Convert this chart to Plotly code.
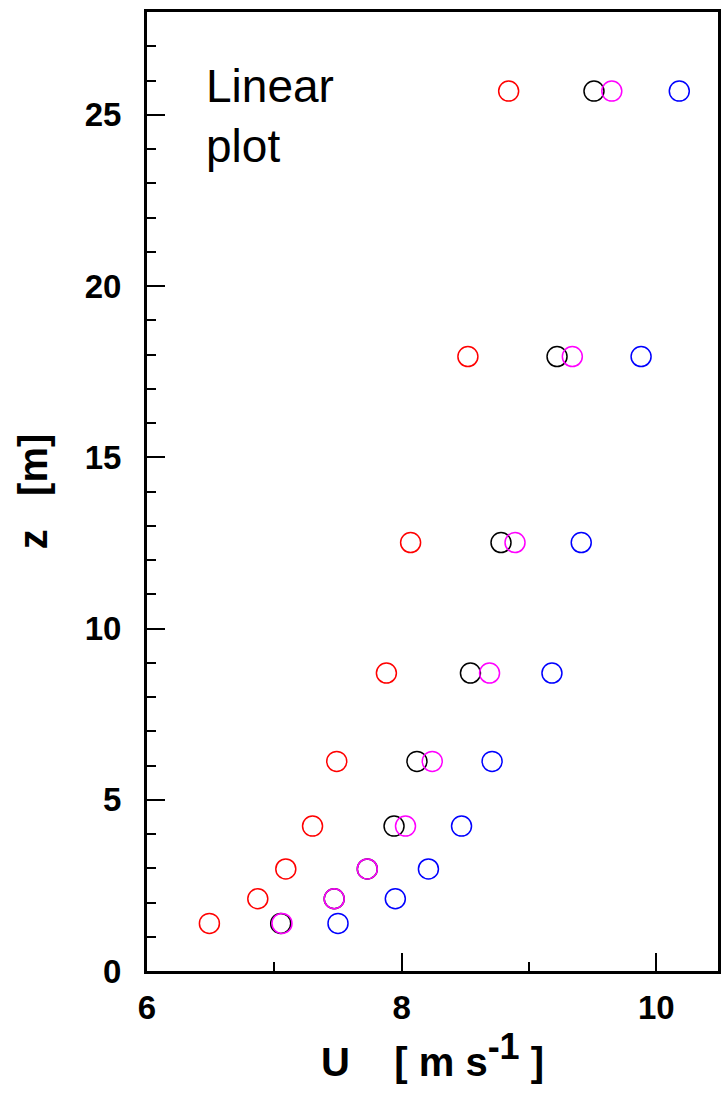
import plotly.graph_objects as go

# Heights (m)
z = [1.39, 2.11, 2.98, 4.23, 6.12, 8.70, 12.51, 17.94, 25.69]
# Wind speeds (m/s) for the four series
u_red = [6.49, 6.87, 7.09, 7.30, 7.49, 7.88, 8.07, 8.52, 8.84]
u_black = [7.05, 7.47, 7.73, 7.94, 8.12, 8.54, 8.78, 9.22, 9.51]
u_magenta = [7.06, 7.47, 7.73, 8.03, 8.24, 8.69, 8.89, 9.34, 9.65]
u_blue = [7.50, 7.95, 8.21, 8.47, 8.71, 9.18, 9.41, 9.88, 10.18]

x_ticks = [6, 8, 10]
y_ticks = [0, 5, 10, 15, 20, 25]

series = [
    ("red", u_red, "#ff0000"),
    ("black", u_black, "#000000"),
    ("magenta", u_magenta, "#ff00ff"),
    ("blue", u_blue, "#0000ff"),
]

fig = go.Figure()
for name, u, col in series:
    fig.add_trace(go.Scatter(
        x=u, y=z, mode="markers", name=name, showlegend=False,
        marker=dict(symbol="circle-open", size=20, color=col,
                    line=dict(color=col, width=1.5)),
    ))

font_fam = "Liberation Sans, Arial, sans-serif"

fig.update_layout(
    width=723, height=1093,
    margin=dict(l=147, r=2, t=12, b=122),
    plot_bgcolor="white", paper_bgcolor="white",
    font=dict(family=font_fam, color="black"),
)

fig.update_xaxes(
    range=[6, 10.484], tickvals=x_ticks, ticktext=[f"<b>{v}</b>" for v in x_ticks],
    ticks="inside", ticklen=18, tickwidth=2, tickcolor="black",
    minor=dict(dtick=1, tick0=6, ticks="inside", ticklen=9, tickwidth=2, tickcolor="black"),
    showline=True, linecolor="black", linewidth=2.5, mirror=True,
    showgrid=False, zeroline=False,
    tickfont=dict(size=33, family=font_fam, color="black"),
    ticklabelstandoff=6,
    title=dict(text="<b>U    [ m s<sup><span style='font-size:36px'>-1</span></sup> ]</b>",
               font=dict(size=40, family=font_fam, color="black"),
               standoff=22),
)
fig.update_yaxes(
    range=[0, 28], tickvals=y_ticks, ticktext=[f"<b>{v}</b>" for v in y_ticks],
    ticks="inside", ticklen=18, tickwidth=2, tickcolor="black",
    minor=dict(dtick=1, tick0=0, ticks="inside", ticklen=9, tickwidth=2, tickcolor="black"),
    showline=True, linecolor="black", linewidth=3, mirror=True,
    showgrid=False, zeroline=False,
    tickfont=dict(size=33, family=font_fam, color="black"),
    ticklabelstandoff=16,
    title=dict(text="<b>z   [m]</b>", font=dict(size=40, family=font_fam, color="black"),
               standoff=25),
)

fig.add_annotation(
    text="Linear<br>plot", xref="paper", yref="paper",
    x=(204 - 147) / 574, y=1 - (58 - 12) / 959, xanchor="left", yanchor="top",
    showarrow=False, align="left",
    font=dict(size=46, family=font_fam, color="black"),
)

fig.write_html(
    "out.html",
    config={"displayModeBar": False},
    post_script="document.body.style.margin='0';document.body.style.overflow='hidden';",
)
